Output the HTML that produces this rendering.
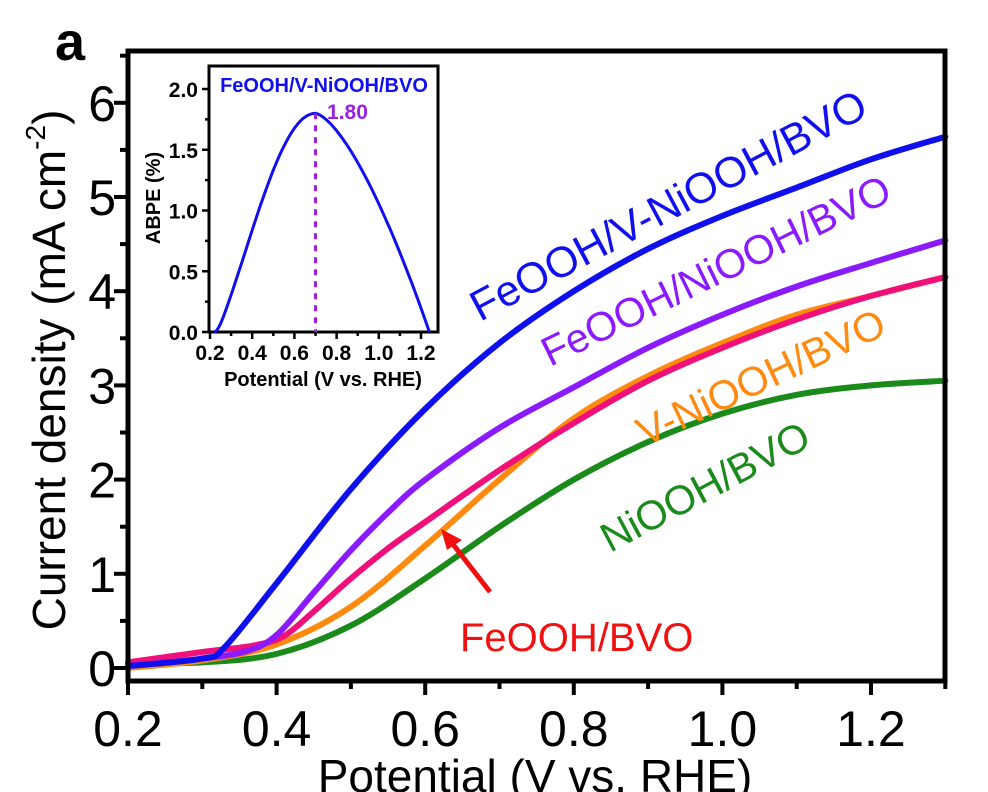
<!DOCTYPE html>
<html><head><meta charset="utf-8"><style>
html,body{margin:0;padding:0;background:#fff;}
svg{display:block;font-family:"Liberation Sans",Arial,sans-serif;}
</style></head><body>
<svg id="s" width="988" height="792" viewBox="0 0 988 792" xmlns="http://www.w3.org/2000/svg">
<g id="curves" fill="none" stroke-linecap="round" stroke-linejoin="round"></g>
<rect x="128" y="51" width="817" height="630" fill="none" stroke="#000" stroke-width="5"/>
<g id="ticks" stroke="#000" stroke-width="4"></g>
<g font-size="50" text-anchor="middle" id="xl"></g>
<g font-size="50" text-anchor="end" id="yl"></g>
<text x="535" y="792" font-size="46" text-anchor="middle">Potential (V vs. RHE)</text>
<text transform="translate(65,370) rotate(-90)" font-size="46" text-anchor="middle">Current density (mA cm<tspan dy="-20" font-size="28">-2</tspan><tspan dy="20">)</tspan></text>
<text x="55" y="60" font-size="54" font-weight="bold">a</text>
<text transform="translate(480,322) rotate(-28)" font-size="43" fill="#1010ee">FeOOH/V-NiOOH/BVO</text>
<text transform="translate(550,367) rotate(-26)" font-size="41" fill="#8a1aff">FeOOH/NiOOH/BVO</text>
<text transform="translate(645,447) rotate(-25)" font-size="41" fill="#ff8a10">V-NiOOH/BVO</text>
<text transform="translate(610,553) rotate(-28)" font-size="41" fill="#1a8a1a">NiOOH/BVO</text>
<text x="460" y="651" font-size="40" fill="#f01010">FeOOH/BVO</text>
<line x1="490" y1="592" x2="452" y2="543" stroke="#f01010" stroke-width="5"/>
<polygon points="441,529 462,540 447,550" fill="#f01010"/>
<rect x="209" y="66" width="229" height="266" fill="#fff" stroke="#000" stroke-width="3"/>
<g id="inset"></g>
</svg>
<script>
var NS="http://www.w3.org/2000/svg";
function el(p,t,a,txt){var e=document.createElementNS(NS,t);for(var k in a)e.setAttribute(k,a[k]);if(txt!=null)e.textContent=txt;p.appendChild(e);return e;}
function X(v){return 128+(v-0.2)*743;}
function Y(v){return 668-v*94.2;}
function path(pts,fx,fy){
  var P=pts.map(function(p){return [fx(p[0]),fy(p[1])];});
  var d="M"+P[0][0]+","+P[0][1];
  for(var i=0;i<P.length-1;i++){
    var p0=P[i-1]||P[i],p1=P[i],p2=P[i+1],p3=P[i+2]||P[i+1];
    var c1=[p1[0]+(p2[0]-p0[0])/6,p1[1]+(p2[1]-p0[1])/6];
    var c2=[p2[0]-(p3[0]-p1[0])/6,p2[1]-(p3[1]-p1[1])/6];
    d+=" C"+c1+" "+c2+" "+p2;
  }
  return d;
}
var g=document.getElementById("curves");
var series=[
 ["#1a8a1a",[[0.2,0.05],[0.3,0.06],[0.4,0.15],[0.5,0.45],[0.6,0.95],[0.7,1.5],[0.8,2.0],[0.9,2.4],[1.0,2.7],[1.1,2.9],[1.2,3.0],[1.3,3.05]]],
 ["#ff8a10",[[0.2,0.0],[0.3,0.08],[0.4,0.25],[0.5,0.65],[0.6,1.3],[0.7,2.0],[0.8,2.65],[0.9,3.1],[1.0,3.45],[1.1,3.75],[1.2,3.95],[1.3,4.15]]],
 ["#f0107a",[[0.2,0.06],[0.3,0.17],[0.37,0.24],[0.41,0.34],[0.45,0.6],[0.5,0.95],[0.55,1.27],[0.6,1.55],[0.7,2.1],[0.8,2.6],[0.9,3.05],[1.0,3.4],[1.1,3.7],[1.2,3.95],[1.3,4.15]]],
 ["#8a1aff",[[0.2,0.02],[0.3,0.1],[0.36,0.18],[0.4,0.35],[0.45,0.8],[0.5,1.25],[0.55,1.65],[0.6,2.0],[0.7,2.55],[0.8,2.98],[0.9,3.4],[1.0,3.75],[1.1,4.05],[1.2,4.3],[1.3,4.54]]],
 ["#1010ee",[[0.2,0.02],[0.3,0.1],[0.33,0.22],[0.4,0.9],[0.5,1.9],[0.6,2.75],[0.7,3.45],[0.8,4.0],[0.9,4.45],[1.0,4.8],[1.1,5.1],[1.2,5.4],[1.3,5.64]]]
];
series.forEach(function(s){el(g,"path",{d:path(s[1],X,Y),stroke:s[0],"stroke-width":6});});
var t=document.getElementById("ticks"),xl=document.getElementById("xl"),yl=document.getElementById("yl");
for(var i=0;i<=11;i++){var v=0.2+i*0.1,x=X(v),maj=(i%2==0);
 el(t,"line",{x1:x,y1:681,x2:x,y2:maj?695:689});
 if(maj)el(xl,"text",{x:x,y:746},v.toFixed(1));}
for(var i=0;i<=13;i++){var v=i*0.5,y=Y(v),maj=(i%2==0);if(y<55)continue;
 el(t,"line",{x1:128,y1:y,x2:maj?114:120,y2:y});
 if(maj)el(yl,"text",{x:116,y:y+18},String(v));}
var ins=document.getElementById("inset");
function IX(v){return 210+(v-0.2)*211;}
function IY(v){return 332-v*121.5;}
var pts=[];for(var v=0.22;v<=1.2401;v+=0.01){var y;
 if(v<0.7){var u=(v-0.22)/0.48;y=1.8*Math.pow(Math.sin(u*Math.PI/2),1.3)*(1-Math.exp(-u*25));}else{var u=(v-0.7)/0.54;y=1.8*(1-Math.pow(u,1.5));}
 pts.push(IX(v).toFixed(1)+","+IY(Math.max(0,y)).toFixed(1));}
el(ins,"polyline",{points:pts.join(" "),fill:"none",stroke:"#1010ee","stroke-width":3});
el(ins,"line",{x1:IX(0.7),y1:IY(1.8),x2:IX(0.7),y2:332,stroke:"#9a20e0","stroke-width":3,"stroke-dasharray":"6,6"});
for(var i=0;i<=10;i++){var v=0.2+i*0.1,x=IX(v),maj=(i%2==0);
 el(ins,"line",{x1:x,y1:332,x2:x,y2:maj?339:336,stroke:"#000","stroke-width":2.5});
 if(maj)el(ins,"text",{x:x,y:360,"font-size":21,"font-weight":"bold","text-anchor":"middle"},v.toFixed(1));}
for(var i=0;i<=8;i++){var v=i*0.25,y=IY(v),maj=(i%2==0);
 el(ins,"line",{x1:209,y1:y,x2:maj?202:205,y2:y,stroke:"#000","stroke-width":2.5});
 if(maj)el(ins,"text",{x:198,y:y+8,"font-size":21,"font-weight":"bold","text-anchor":"end"},v.toFixed(1));}
el(ins,"text",{x:323,y:386,"font-size":20,"font-weight":"bold","text-anchor":"middle"},"Potential (V vs. RHE)");
el(ins,"text",{transform:"translate(160,198) rotate(-90)","font-size":20,"font-weight":"bold","text-anchor":"middle"},"ABPE (%)");
el(ins,"text",{x:324,y:92,"font-size":20,"font-weight":"bold","text-anchor":"middle",fill:"#1010ee"},"FeOOH/V-NiOOH/BVO");
el(ins,"text",{x:327,y:119,"font-size":21,"font-weight":"bold",fill:"#9a20e0"},"1.80");
</script>
</body></html>
